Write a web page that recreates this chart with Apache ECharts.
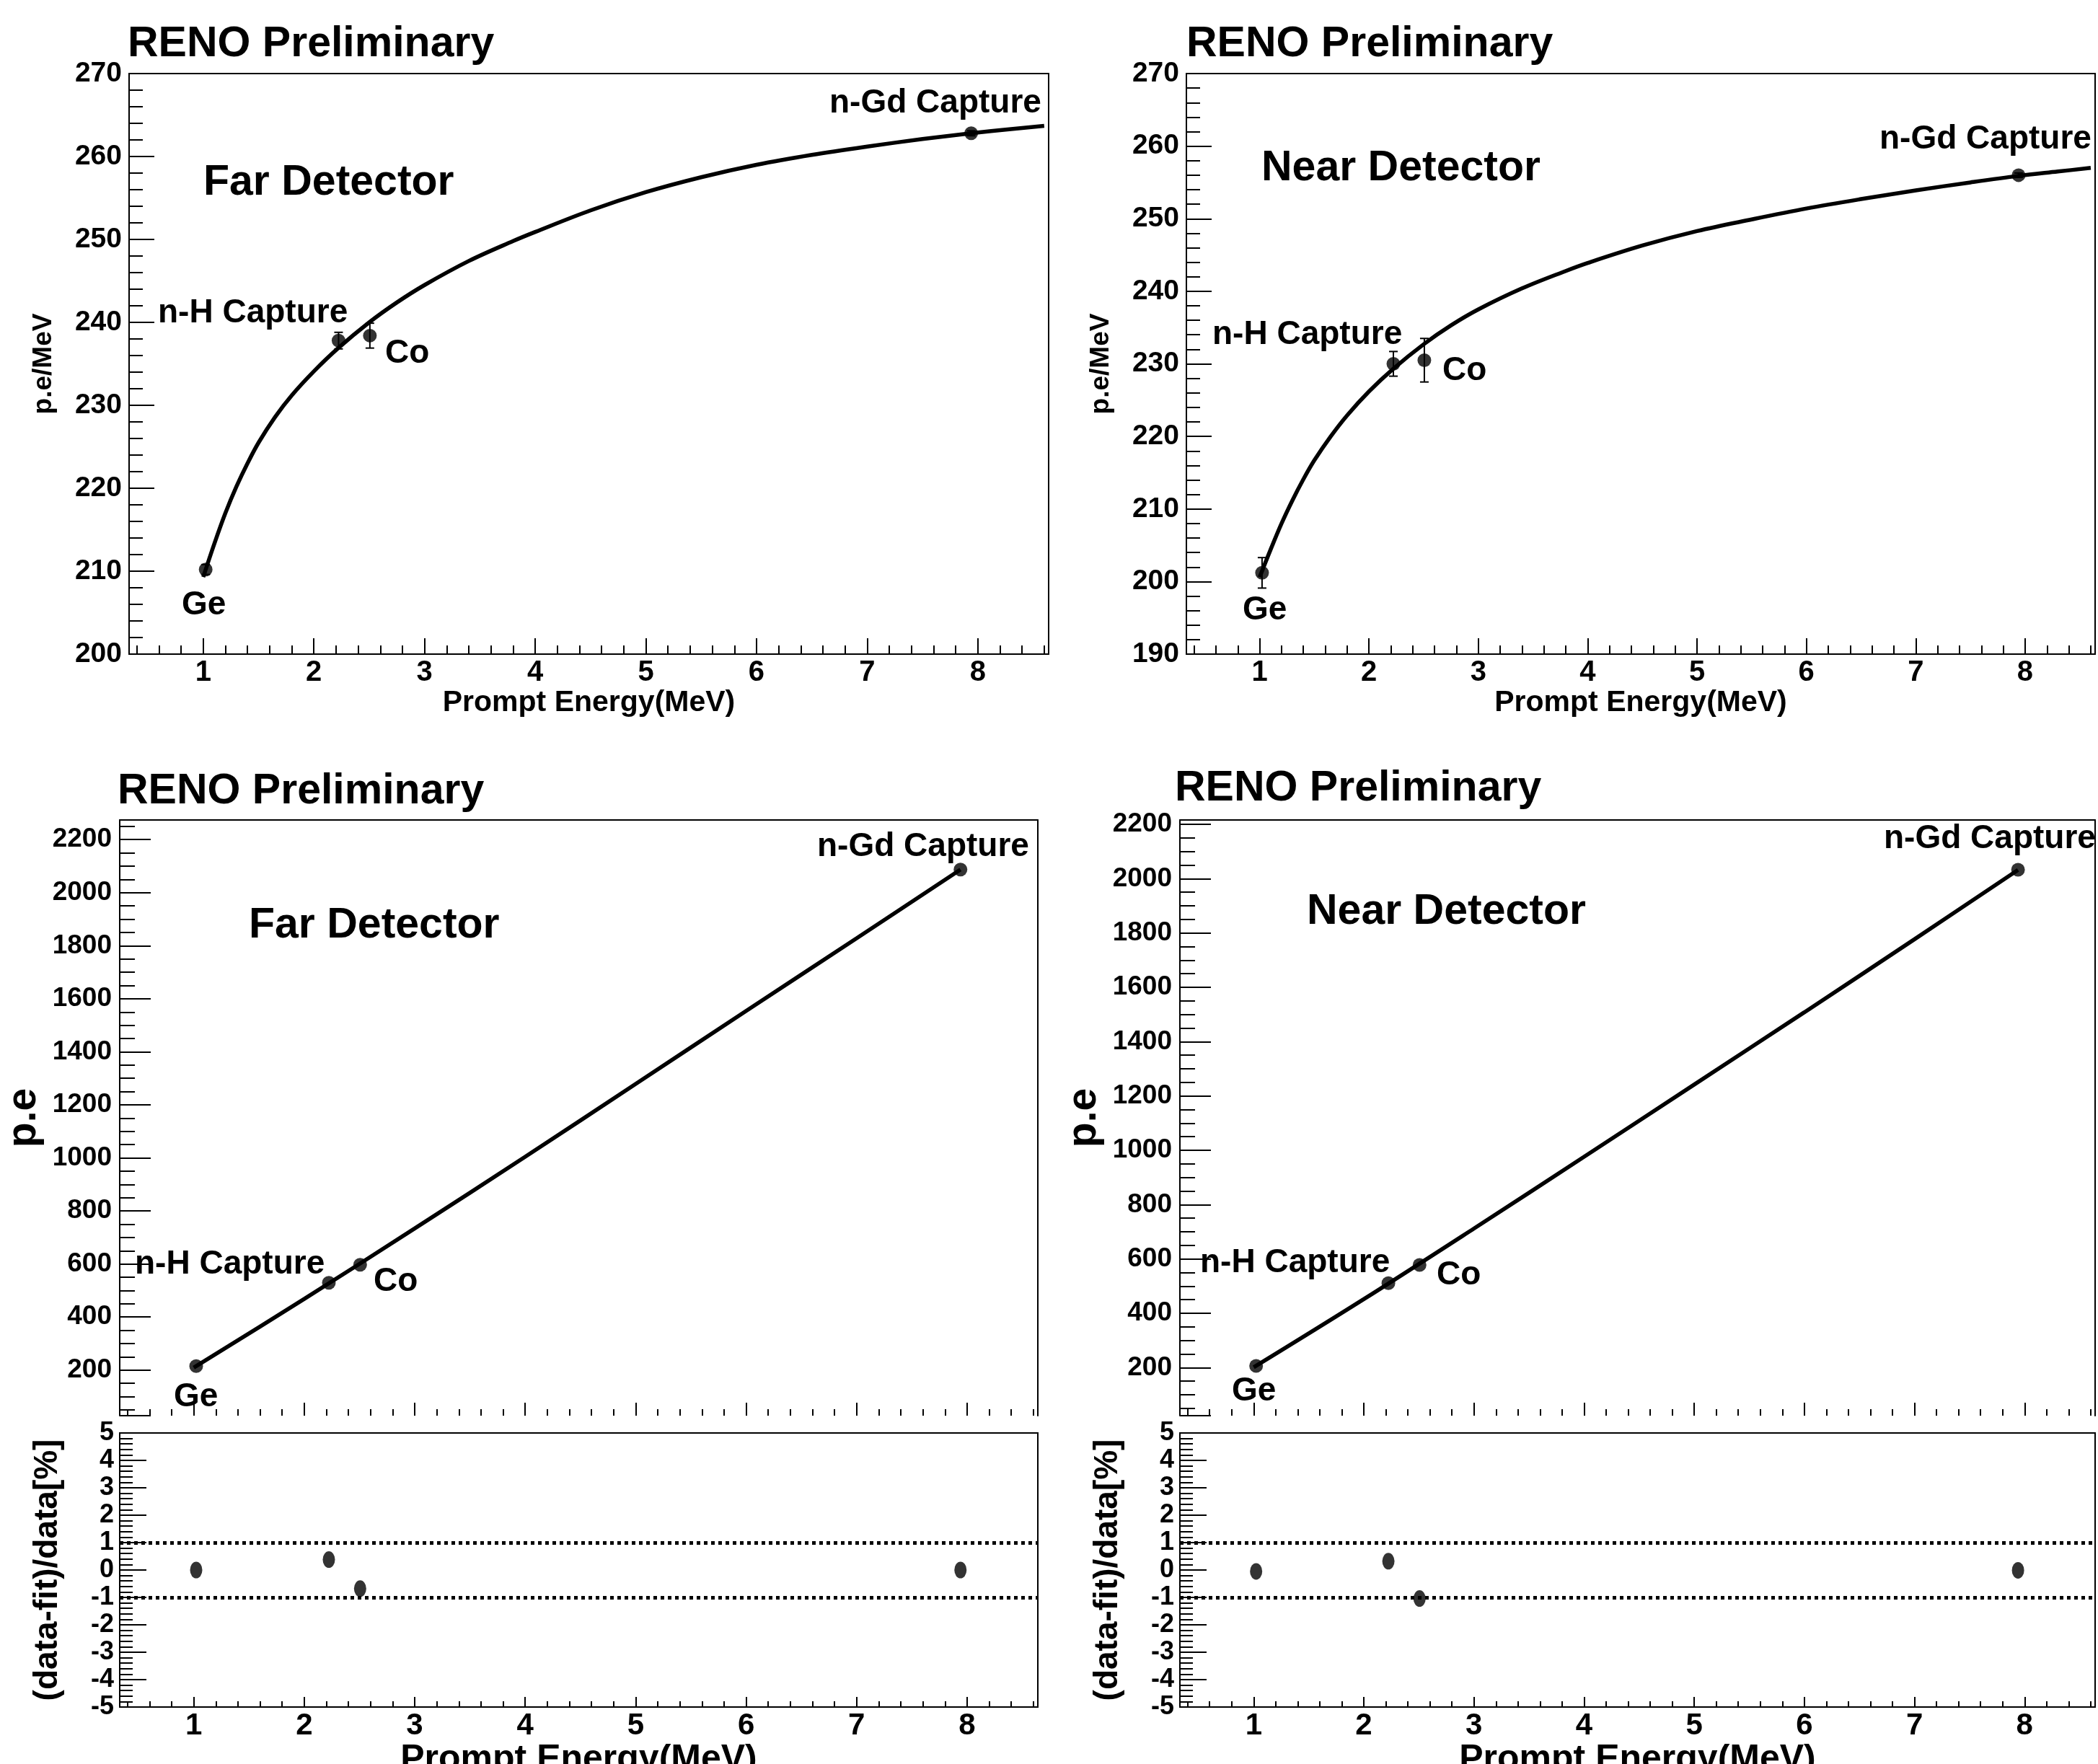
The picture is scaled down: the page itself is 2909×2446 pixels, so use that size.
<!DOCTYPE html>
<html><head><meta charset="utf-8">
<script src="https://cdn.jsdelivr.net/npm/echarts@6/dist/echarts.min.js"></script>
<style>html,body{margin:0;padding:0;background:#fff}#c{width:2909px;height:2446px}</style>
</head><body><div id="c"></div>
<script>
// ---------------- data ----------------
const energies = [1.022, 2.223, 2.506, 7.94];           // Ge, n-H, Co, n-Gd (MeV)
const sourceNames = ['Ge', 'n-H Capture', 'Co', 'n-Gd Capture'];
const farPePerMeV = [210.2, 237.8, 238.4, 262.8];
const farPePerMeVErr = [0.6, 1.0, 1.5, 0.3];
const nearPePerMeV = [201.2, 230.0, 230.5, 256.0];
const nearPePerMeVErr = [2.1, 1.7, 3.0, 0.3];
const farPe = [215, 529, 597, 2087];
const nearPe = [206, 511, 578, 2033];
const farResidual = [0.0, 0.38, -0.68, 0.0];
const nearResidual = [-0.05, 0.32, -1.04, -0.01];

const fitCurveE = [1.0, 1.1, 1.2, 1.3, 1.4, 1.5, 1.65, 1.8, 2.0, 2.22, 2.5, 2.75, 3.0, 3.4, 3.8, 4.0, 4.5, 5.0, 5.5, 6.0, 6.5, 7.0, 7.5, 7.94, 8.3, 8.6];
const farFitCurve = [209.3, 213.3, 217.0, 220.2, 223.0, 225.5, 228.6, 231.2, 234.1, 236.9, 240.0, 242.4, 244.5, 247.4, 249.8, 250.9, 253.5, 255.7, 257.5, 259.0, 260.2, 261.2, 262.1, 262.8, 263.3, 263.7];
const nearFitCurve = [200.6, 204.4, 208.0, 211.2, 214.1, 216.7, 220.0, 222.9, 226.2, 229.3, 232.7, 235.3, 237.5, 240.4, 242.8, 243.9, 246.3, 248.3, 249.9, 251.4, 252.7, 253.9, 255.0, 255.9, 256.5, 257.0];

const fitLineE = [1.0, 2.0, 3.0, 4.0, 5.0, 6.0, 7.0, 7.94];
const farFitLine = [209, 468, 734, 1004, 1279, 1554, 1828, 2087];
const nearFitLine = [201, 452, 712, 976, 1242, 1508, 1777, 2032];

const residualBands = [1, -1];
const xRange = [0.33, 8.64];
const farPeRange = [28, 2274];
const nearPeRange = [23, 2216];
const farPmRange = [200, 270];
const nearPmRange = [190, 270];
const residualRange = [-5, 5];

// ---------------- layout / style ----------------
const FONT = '"Liberation Sans", Arial, Helvetica, sans-serif';
const BLACK = '#000';
const zip = (xs, ys) => xs.map((x, i) => [x, ys[i]]);
const plainNum = v => String(Math.round(v * 1000) / 1000);

const grids = [], xAxes = [], yAxes = [], series = [];

function addGrid(g, border) {
  grids.push(Object.assign({ show: border, borderColor: BLACK, borderWidth: 2, backgroundColor: 'transparent',
    containLabel: false, outerBoundsMode: 'none' }, g));
  return grids.length - 1;
}
function labelStyle(size, margin, extra) {
  return Object.assign({ show: true, fontSize: size, fontWeight: 'bold', fontFamily: FONT, color: BLACK, margin: margin,
    formatter: plainNum }, extra || {});
}
function addX(gi, o) {
  xAxes.push({
    type: 'value', gridIndex: gi, min: xRange[0], max: xRange[1], splitNumber: 8,
    position: 'bottom',
    axisLine: { show: o.line, onZero: false, lineStyle: { color: BLACK, width: 2 } },
    axisTick: { show: true, inside: true, length: o.major, lineStyle: { color: BLACK, width: 2 } },
    minorTick: { show: true, splitNumber: 5, length: o.minor, lineStyle: { color: BLACK, width: 2 } },
    splitLine: { show: false }, minorSplitLine: { show: false },
    axisLabel: o.labelSize ? labelStyle(o.labelSize, o.labelMargin, { showMinLabel: false, showMaxLabel: false }) : { show: false },
    name: o.name || '', nameLocation: 'middle', nameGap: o.nameGap || 0,
    nameTextStyle: { fontSize: o.nameSize || 10, fontWeight: 'bold', fontFamily: FONT, color: BLACK }
  });
  return xAxes.length - 1;
}
function addY(gi, o) {
  const ax = {
    type: 'value', gridIndex: gi, min: o.range[0], max: o.range[1],
    axisLine: { show: o.line, onZero: false, lineStyle: { color: BLACK, width: 2 } },
    axisTick: { show: true, inside: true, length: o.major, lineStyle: { color: BLACK, width: 2 } },
    minorTick: { show: true, splitNumber: o.minorSplit, length: o.minor, lineStyle: { color: BLACK, width: 2 } },
    splitLine: { show: false }, minorSplitLine: { show: false },
    axisLabel: labelStyle(o.labelSize, o.labelMargin, { showMinLabel: o.showEnds, showMaxLabel: o.showEnds }),
    name: o.name, nameLocation: 'middle', nameGap: o.nameGap, nameRotate: 90,
    nameTextStyle: { fontSize: o.nameSize, fontWeight: 'bold', fontFamily: FONT, color: BLACK }
  };
  if (o.interval) ax.interval = o.interval; else ax.splitNumber = o.splitNumber;
  yAxes.push(ax);
  return yAxes.length - 1;
}
function addFrameEdges(gi, yRange) {
  xAxes.push({ type: 'value', gridIndex: gi, position: 'top', min: xRange[0], max: xRange[1],
    axisLine: { show: true, onZero: false, lineStyle: { color: BLACK, width: 2 } },
    axisTick: { show: false }, axisLabel: { show: false }, splitLine: { show: false } });
  yAxes.push({ type: 'value', gridIndex: gi, position: 'right', min: yRange[0], max: yRange[1],
    axisLine: { show: true, onZero: false, lineStyle: { color: BLACK, width: 2 } },
    axisTick: { show: false }, axisLabel: { show: false }, splitLine: { show: false } });
}
function fitSeries(xi, yi, xs, ys) {
  series.push({ type: 'line', xAxisIndex: xi, yAxisIndex: yi, data: zip(xs, ys), smooth: 0.35,
    showSymbol: false, symbol: 'none', lineStyle: { color: BLACK, width: 5.5 }, z: 2, silent: true, animation: false });
}
function pointSeries(xi, yi, ys, size) {
  series.push({ type: 'scatter', xAxisIndex: xi, yAxisIndex: yi, data: zip(energies, ys), symbol: 'circle',
    symbolSize: size, itemStyle: { color: BLACK }, z: 5, silent: true, animation: false });
}
function errorSeries(xi, yi, ys, errs) {
  series.push({ type: 'custom', xAxisIndex: xi, yAxisIndex: yi, z: 4, silent: true, animation: false,
    data: energies.map((e, i) => [e, ys[i] - errs[i], ys[i] + errs[i]]),
    renderItem: function (params, api) {
      const lo = api.coord([api.value(0), api.value(1)]);
      const hi = api.coord([api.value(0), api.value(2)]);
      const c = 6, st = { stroke: BLACK, lineWidth: 2 };
      return { type: 'group', children: [
        { type: 'line', shape: { x1: lo[0], y1: lo[1], x2: hi[0], y2: hi[1] }, style: st },
        { type: 'line', shape: { x1: lo[0] - c, y1: lo[1], x2: lo[0] + c, y2: lo[1] }, style: st },
        { type: 'line', shape: { x1: hi[0] - c, y1: hi[1], x2: hi[0] + c, y2: hi[1] }, style: st }
      ] };
    } });
}
function residualSeries(xi, yi, ys) {
  series.push({ type: 'scatter', xAxisIndex: xi, yAxisIndex: yi, data: zip(energies, ys), symbol: 'circle',
    symbolSize: [17, 23], itemStyle: { color: BLACK }, z: 5, silent: true, animation: false,
    markLine: { silent: true, symbol: 'none', label: { show: false }, animation: false,
      lineStyle: { color: BLACK, width: 5, type: 'dotted' },
      data: residualBands.map(v => ({ yAxis: v })) } });
}

// ---- top panels (p.e/MeV) ----
function topPanel(g, pmRange, vals, errs, curve) {
  const gi = addGrid(g, true);
  const xi = addX(gi, { line: true, major: 22, minor: 12, labelSize: 40, labelMargin: 6,
    name: 'Prompt Energy(MeV)', nameGap: 42, nameSize: 41 });
  const yi = addY(gi, { range: pmRange, interval: 10, minorSplit: 5, line: true, major: 35, minor: 19,
    labelSize: 39, labelMargin: 10, showEnds: true, name: 'p.e/MeV', nameGap: 100, nameSize: 37 });
  fitSeries(xi, yi, fitCurveE, curve);
  errorSeries(xi, yi, vals, errs);
  pointSeries(xi, yi, vals, 19);
}
topPanel({ left: 179, top: 102, width: 1275, height: 805 }, farPmRange, farPePerMeV, farPePerMeVErr, farFitCurve);
topPanel({ left: 1645, top: 102, width: 1260, height: 805 }, nearPmRange, nearPePerMeV, nearPePerMeVErr, nearFitCurve);

// ---- bottom panels (p.e + residual) ----
function bottomPanel(left, width, peRange, pe, line, resid) {
  const gu = addGrid({ left: left, top: 1137, width: width, height: 826 }, false);
  const xu = addX(gu, { line: false, major: 18, minor: 9 });
  const yu = addY(gu, { range: peRange, splitNumber: 11, minorSplit: 4, line: true, major: 43, minor: 21,
    labelSize: 37, labelMargin: 11, showEnds: false, name: 'p.e', nameGap: 104, nameSize: 57 });
  addFrameEdges(gu, peRange);
  fitSeries(xu, yu, fitLineE, line);
  pointSeries(xu, yu, pe, 19);

  const gl = addGrid({ left: left, top: 1987, width: width, height: 380 }, true);
  const xl = addX(gl, { line: true, major: 14, minor: 8, labelSize: 42, labelMargin: 5,
    name: 'Prompt Energy(MeV)', nameGap: 42, nameSize: 50 });
  const yl = addY(gl, { range: residualRange, interval: 1, minorSplit: 5, line: true, major: 37, minor: 18,
    labelSize: 36, labelMargin: 8, showEnds: true, name: '(data-fit)/data[%]', nameGap: 77, nameSize: 46 });
  residualSeries(xl, yl, resid);
}
bottomPanel(166, 1273, farPeRange, farPe, farFitLine, farResidual);
bottomPanel(1636, 1269, nearPeRange, nearPe, nearFitLine, nearResidual);

// ---- text annotations ----
const annotations = [
  ['RENO Preliminary', 177, 62, 59], ['Far Detector', 282, 254, 59],
  [sourceNames[3], 1150, 143, 46], [sourceNames[1], 219, 434, 46], [sourceNames[2], 534, 490, 46], [sourceNames[0], 252, 839, 46],
  ['RENO Preliminary', 1645, 62, 59], ['Near Detector', 1749, 234, 59],
  [sourceNames[3], 2606, 193, 46], [sourceNames[1], 1681, 464, 46], [sourceNames[2], 2000, 514, 46], [sourceNames[0], 1723, 846, 46],
  ['RENO Preliminary', 163, 1098, 59], ['Far Detector', 345, 1284, 59],
  [sourceNames[3], 1133, 1174, 46], [sourceNames[1], 187, 1753, 46], [sourceNames[2], 518, 1777, 46], [sourceNames[0], 241, 1937, 46],
  ['RENO Preliminary', 1629, 1094, 59], ['Near Detector', 1812, 1265, 59],
  [sourceNames[3], 2612, 1163, 46], [sourceNames[1], 1664, 1751, 46], [sourceNames[2], 1992, 1768, 46], [sourceNames[0], 1708, 1929, 46]
];
const graphic = annotations.map(a => ({ type: 'text', x: a[1], y: a[2], z: 10, silent: true,
  style: { text: a[0], fill: BLACK, fontSize: a[3], fontWeight: 'bold', fontFamily: FONT, textAlign: 'left', textVerticalAlign: 'middle', verticalAlign: 'middle', align: 'left' } }));

const chart = echarts.init(document.getElementById('c'), null, { renderer: 'canvas', width: 2909, height: 2446 });
chart.setOption({ animation: false, backgroundColor: '#fff', grid: grids, xAxis: xAxes, yAxis: yAxes, series: series, graphic: graphic });
</script></body></html>
